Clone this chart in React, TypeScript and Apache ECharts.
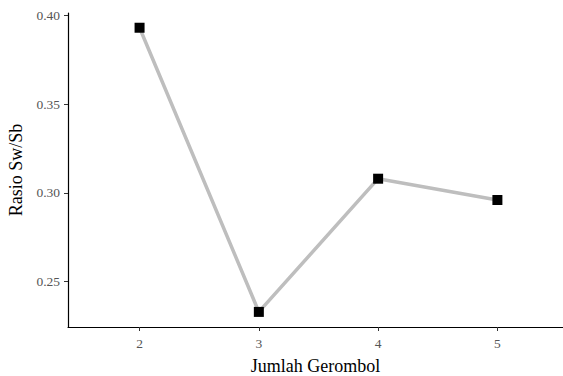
import React, { useEffect, useRef } from "react";
import * as echarts from "echarts";

const clusters = [2, 3, 4, 5];
const ratios = [0.393, 0.233, 0.308, 0.296];
const yTicks = [0.25, 0.3, 0.35, 0.4];
const xTicks = [2, 3, 4, 5];

export default function App() {
  const ref = useRef<HTMLDivElement>(null);
  useEffect(() => {
    if (!ref.current) return;
    const chart = echarts.init(ref.current, undefined, { renderer: "svg" });
    const font = "'Liberation Serif', 'DejaVu Serif', serif";
    chart.setOption({
      animation: false,
      backgroundColor: "#ffffff",
      grid: { left: 68, right: 0, top: 13, bottom: 49, outerBoundsMode: "none", containLabel: false },
      xAxis: {
        type: "value",
        min: 1.4,
        max: 5.55,
        name: "Jumlah Gerombol",
        nameLocation: "middle",
        nameGap: 30,
        nameTextStyle: { color: "#000", fontSize: 18, fontFamily: font },
        splitLine: { show: false },
        axisLine: { show: true, lineStyle: { color: "#000", width: 1.2 } },
        axisTick: { show: true, length: 4, customValues: xTicks, lineStyle: { color: "#333" } },
        axisLabel: {
          customValues: xTicks,
          color: "#555",
          fontSize: 13.5,
          fontFamily: font,
          margin: 9,
        },
      },
      yAxis: {
        type: "value",
        min: 0.2245,
        max: 0.4013,
        name: "Rasio Sw/Sb",
        nameLocation: "middle",
        nameGap: 42,
        nameRotate: 90,
        nameTextStyle: { color: "#000", fontSize: 18, fontFamily: font },
        splitLine: { show: false },
        axisLine: { show: true, lineStyle: { color: "#000", width: 1.2 } },
        axisTick: { show: true, length: 4, customValues: yTicks, lineStyle: { color: "#333" } },
        axisLabel: {
          customValues: yTicks,
          color: "#555",
          fontSize: 13.5,
          fontFamily: font,
          margin: 8,
          formatter: (v: number) => v.toFixed(2),
        },
      },
      series: [
        {
          type: "line",
          data: clusters.map((c, i) => [c, ratios[i]]),
          lineStyle: { color: "#bebebe", width: 3.5 },
          symbol: "rect",
          symbolSize: 10,
          itemStyle: { color: "#000" },
          z: 2,
        },
      ],
    });
    return () => chart.dispose();
  }, []);
  return <div ref={ref} style={{ width: 563, height: 376, position: "absolute", left: 0, top: 0 }} />;
}
